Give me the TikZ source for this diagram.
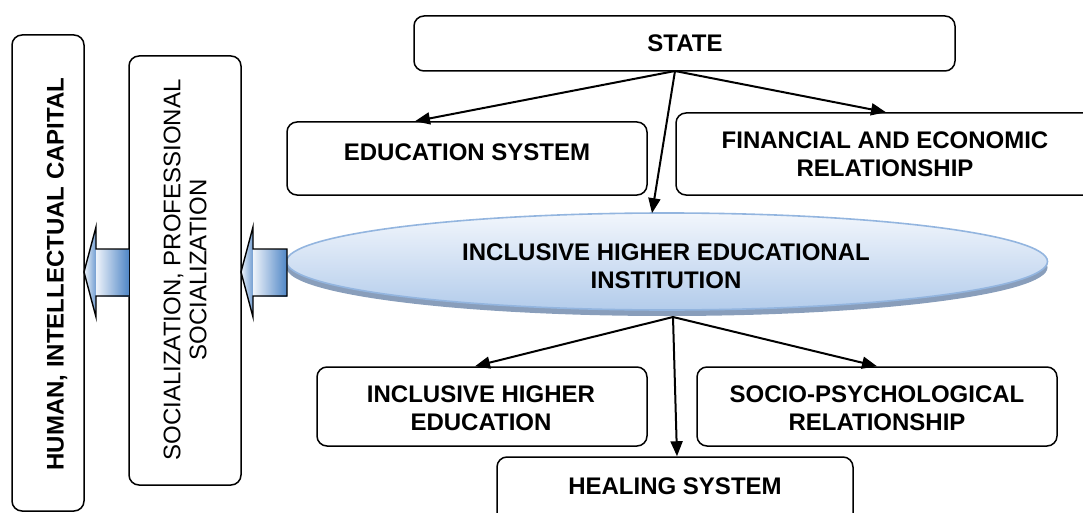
\documentclass[tikz,border=0pt]{standalone}
\usepackage{fontspec}
\setmainfont{Liberation Sans}
\usetikzlibrary{arrows.meta,shapes.geometric,shadows,calc}
\definecolor{elborder}{HTML}{93B5DF}
\definecolor{eltop}{HTML}{F2F6FC}
\definecolor{elbot}{HTML}{B3CCEB}
\definecolor{elshadow}{HTML}{7C94B4}
\definecolor{arlight}{HTML}{EEF3FA}
\definecolor{ardark}{HTML}{4F86C6}
\begin{document}
\begin{tikzpicture}[x=1pt,y=-1pt,
  box/.style={draw=black,line width=1.5pt,rounded corners=10pt,fill=white,inner sep=0pt},
  txt/.style={font=\bfseries\fontsize{24}{28}\selectfont,align=center,inner sep=0pt},
  rtxt/.style={font=\fontsize{24}{26}\selectfont,align=center,inner sep=0pt},
  link/.style={line width=2pt,-{Triangle[length=15pt,width=12pt]}},
  blockhead/.style={left color=arlight,right color=ardark!80},
  blockshaft/.style={left color=arlight,right color=ardark},
]
\useasboundingbox (0,0) rectangle (1083,513);

% boxes
\node[box,minimum width=72,minimum height=476] (hum) at (48,273) {};
\node[box,minimum width=112,minimum height=429] (soc) at (185,270.5) {};
\node[box,minimum width=541,minimum height=55] (state) at (684.5,43.5) {};
\node[box,minimum width=360,minimum height=73] (edu) at (467,158.5) {};
\node[box,minimum width=420,minimum height=82] (fin) at (886,154) {};
\node[box,minimum width=330,minimum height=79] (ihe) at (482,406.5) {};
\node[box,minimum width=360,minimum height=79] (socio) at (877,406.5) {};
\node[box,minimum width=356,minimum height=68] (heal) at (675,491) {};

% ellipse
\node[ellipse,minimum width=761,minimum height=97,inner sep=0pt,draw=elborder,line width=1.6pt,
  top color=eltop,bottom color=elbot,
  drop shadow={shadow xshift=0pt,shadow yshift=-6pt,fill=elshadow,opacity=0.9}] (hei) at (667,261.5) {};

% texts
\node[txt,rotate=90] (humT) at (57,274) {HUMAN, INTELLECTUAL CAPITAL};
\node[rtxt,rotate=90] (socT) at (185,270) {SOCIALIZATION, PROFESSIONAL\\SOCIALIZATION};
\node[txt] (stateT) at (685,43) {STATE};
\node[txt] (eduT) at (467,152) {EDUCATION SYSTEM};
\node[txt] (finT) at (885,154) {FINANCIAL AND ECONOMIC\\RELATIONSHIP};
\node[txt] (heiT) at (666,266) {INCLUSIVE HIGHER EDUCATIONAL\\INSTITUTION};
\node[txt] (iheT) at (481,408.5) {INCLUSIVE HIGHER\\EDUCATION};
\node[txt] (socioT) at (877,408.5) {SOCIO-PSYCHOLOGICAL\\RELATIONSHIP};
\node[txt] (healT) at (675,486) {HEALING SYSTEM};

% block arrows
\shade[blockhead] (84,272) -- (96,227) -- (96,317) -- cycle;
\shade[blockshaft] (96,249) rectangle (129,296);
\draw[line width=1.4pt,line join=miter] (129,249) -- (96,249) -- (96,227) -- (84,272) -- (96,317) -- (96,296) -- (129,296);
\shade[blockhead] (241,272) -- (253,227) -- (253,317) -- cycle;
\shade[blockshaft] (253,249) rectangle (287,296);
\draw[line width=1.4pt,line join=miter] (287,249) -- (253,249) -- (253,227) -- (241,272) -- (253,317) -- (253,296) -- (287,296) -- cycle;

% connectors
\coordinate (s0) at (675,71);
\coordinate (e0) at (673,317);
\draw[link] (s0) -- ([xshift=-52pt]edu.north);
\draw[link] (s0) -- (fin.north);
\draw[link] (s0) -- ([xshift=-15pt,yshift=-1pt]hei.north);
\draw[link] (e0) -- ([xshift=-7pt]ihe.north);
\draw[link] (e0) -- ([xshift=2pt]heal.north);
\draw[link] (e0) -- (socio.north);
\end{tikzpicture}
\end{document}
